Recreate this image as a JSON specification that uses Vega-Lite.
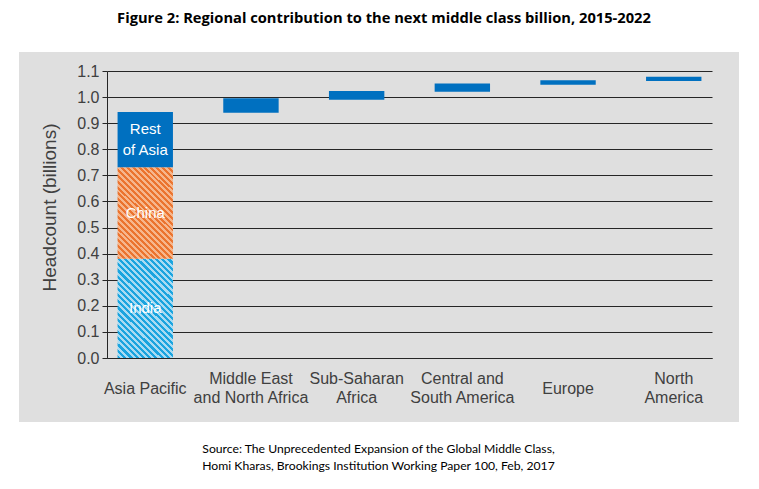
{
  "$schema": "https://vega.github.io/schema/vega-lite/v6.json",
  "width": 720,
  "height": 370,
  "autosize": {"type": "none"},
  "padding": {"left": 19, "top": 52, "right": 20, "bottom": 67},
  "background": "white",
  "config": {"view": {"fill": "#DFDFDF", "stroke": null}},
  "title": {
    "text": "Figure 2: Regional contribution to the next middle class billion, 2015-2022",
    "font": "Open Sans",
    "fontSize": 14.7,
    "fontWeight": "bold",
    "color": "black",
    "anchor": "middle",
    "frame": "group",
    "baseline": "alphabetic",
    "offset": 14,
    "dx": 5
  },
  "data": {
    "values": [
      {"region": "Asia Pacific", "segment": "India", "start": 0, "end": 0.38},
      {"region": "Asia Pacific", "segment": "China", "start": 0.38, "end": 0.73},
      {"region": "Asia Pacific", "segment": "Rest of Asia", "start": 0.73, "end": 0.943},
      {"region": "Middle East and North Africa", "segment": "Middle East and North Africa", "start": 0.94, "end": 0.996},
      {"region": "Sub-Saharan Africa", "segment": "Sub-Saharan Africa", "start": 0.99, "end": 1.023},
      {"region": "Central and South America", "segment": "Central and South America", "start": 1.02, "end": 1.052},
      {"region": "Europe", "segment": "Europe", "start": 1.047, "end": 1.065},
      {"region": "North America", "segment": "North America", "start": 1.062, "end": 1.078}
    ]
  },
  "encoding": {
    "x": {
      "field": "region",
      "type": "nominal",
      "sort": null,
      "scale": {
        "domain": ["Asia Pacific", "Middle East and North Africa", "Sub-Saharan Africa", "Central and South America", "Europe", "North America"],
        "range": [88, 693],
        "paddingInner": 0.476,
        "paddingOuter": 0.1
      },
      "axis": {
        "title": ["Source: The Unprecedented Expansion of the Global Middle Class,", "Homi Kharas, Brookings Institution Working Paper 100, Feb, 2017"],
        "orient": "bottom",
        "offset": -64,
        "ticks": false,
        "tickSize": 0,
        "domain": true,
        "domainColor": "#262626",
        "domainWidth": 1,
        "grid": false,
        "labelAngle": 0,
        "labelFont": "Liberation Sans",
        "labelFontSize": 16,
        "labelColor": "#404040",
        "labelBaseline": {"condition": {"test": "datum.value == 'Asia Pacific' || datum.value == 'Europe'", "value": "middle"}, "value": "line-bottom"},
        "labelPadding": 30,
        "labelLineHeight": 19,
        "labelLimit": 0,
        "labelExpr": "datum.label == 'Middle East and North Africa' ? ['Middle East', 'and North Africa'] : datum.label == 'Sub-Saharan Africa' ? ['Sub-Saharan', 'Africa'] : datum.label == 'Central and South America' ? ['Central and', 'South America'] : datum.label == 'North America' ? ['North', 'America'] : datum.label",
        "titleFont": "Lato",
        "titleFontSize": 12.2,
        "titleFontWeight": "normal",
        "titleColor": "black",
        "titleLineHeight": 17,
        "titlePadding": 37,
        "titleX": 359,
        "titleAlign": "center"
      }
    },
    "y": {
      "field": "start",
      "type": "quantitative",
      "title": "Headcount (billions)",
      "scale": {"domain": [0, 1.1], "range": [306, 19], "nice": false, "zero": false},
      "axis": {
        "title": "Headcount (billions)",
        "values": [0, 0.1, 0.2, 0.3, 0.4, 0.5, 0.6, 0.7, 0.8, 0.9, 1.0, 1.1],
        "format": ".1f",
        "offset": -88,
        "grid": true,
        "gridColor": "#262626",
        "gridWidth": 1,
        "gridOpacity": 1,
        "domainColor": "#262626",
        "tickColor": "#262626",
        "tickSize": 5,
        "labelFont": "Liberation Sans",
        "labelFontSize": 16,
        "labelColor": "#404040",
        "labelPadding": 3,
        "titleFont": "Liberation Sans",
        "titleFontSize": 19,
        "titleFontWeight": "normal",
        "titleColor": "#404040",
        "titlePadding": 17,
        "titleY": 155
      }
    }
  },
  "layer": [
    {
      "transform": [{"filter": "datum.segment != 'India' && datum.segment != 'China'"}],
      "mark": {"type": "bar", "color": "#0070C0"},
      "encoding": {"y2": {"field": "end"}}
    },
    {
      "transform": [{"filter": "datum.segment == 'India'"}],
      "encoding": {"y2": {"field": "end"}},
      "mark": {
        "type": "bar",
        "fill": {
          "gradient": "linear", "x1": 0, "y1": 1, "x2": 0.66, "y2": -0.189,
          "stops": [
            {"offset": 0, "color": "#1AA4DF"}, {"offset": 0.02, "color": "#1AA4DF"}, {"offset": 0.02, "color": "#A8DBF2"}, {"offset": 0.04, "color": "#A8DBF2"},
            {"offset": 0.04, "color": "#1AA4DF"}, {"offset": 0.06, "color": "#1AA4DF"}, {"offset": 0.06, "color": "#A8DBF2"}, {"offset": 0.08, "color": "#A8DBF2"},
            {"offset": 0.08, "color": "#1AA4DF"}, {"offset": 0.1, "color": "#1AA4DF"}, {"offset": 0.1, "color": "#A8DBF2"}, {"offset": 0.12, "color": "#A8DBF2"},
            {"offset": 0.12, "color": "#1AA4DF"}, {"offset": 0.14, "color": "#1AA4DF"}, {"offset": 0.14, "color": "#A8DBF2"}, {"offset": 0.16, "color": "#A8DBF2"},
            {"offset": 0.16, "color": "#1AA4DF"}, {"offset": 0.18, "color": "#1AA4DF"}, {"offset": 0.18, "color": "#A8DBF2"}, {"offset": 0.2, "color": "#A8DBF2"},
            {"offset": 0.2, "color": "#1AA4DF"}, {"offset": 0.22, "color": "#1AA4DF"}, {"offset": 0.22, "color": "#A8DBF2"}, {"offset": 0.24, "color": "#A8DBF2"},
            {"offset": 0.24, "color": "#1AA4DF"}, {"offset": 0.26, "color": "#1AA4DF"}, {"offset": 0.26, "color": "#A8DBF2"}, {"offset": 0.28, "color": "#A8DBF2"},
            {"offset": 0.28, "color": "#1AA4DF"}, {"offset": 0.3, "color": "#1AA4DF"}, {"offset": 0.3, "color": "#A8DBF2"}, {"offset": 0.32, "color": "#A8DBF2"},
            {"offset": 0.32, "color": "#1AA4DF"}, {"offset": 0.34, "color": "#1AA4DF"}, {"offset": 0.34, "color": "#A8DBF2"}, {"offset": 0.36, "color": "#A8DBF2"},
            {"offset": 0.36, "color": "#1AA4DF"}, {"offset": 0.38, "color": "#1AA4DF"}, {"offset": 0.38, "color": "#A8DBF2"}, {"offset": 0.4, "color": "#A8DBF2"},
            {"offset": 0.4, "color": "#1AA4DF"}, {"offset": 0.42, "color": "#1AA4DF"}, {"offset": 0.42, "color": "#A8DBF2"}, {"offset": 0.44, "color": "#A8DBF2"},
            {"offset": 0.44, "color": "#1AA4DF"}, {"offset": 0.46, "color": "#1AA4DF"}, {"offset": 0.46, "color": "#A8DBF2"}, {"offset": 0.48, "color": "#A8DBF2"},
            {"offset": 0.48, "color": "#1AA4DF"}, {"offset": 0.5, "color": "#1AA4DF"}, {"offset": 0.5, "color": "#A8DBF2"}, {"offset": 0.52, "color": "#A8DBF2"},
            {"offset": 0.52, "color": "#1AA4DF"}, {"offset": 0.54, "color": "#1AA4DF"}, {"offset": 0.54, "color": "#A8DBF2"}, {"offset": 0.56, "color": "#A8DBF2"},
            {"offset": 0.56, "color": "#1AA4DF"}, {"offset": 0.58, "color": "#1AA4DF"}, {"offset": 0.58, "color": "#A8DBF2"}, {"offset": 0.6, "color": "#A8DBF2"},
            {"offset": 0.6, "color": "#1AA4DF"}, {"offset": 0.62, "color": "#1AA4DF"}, {"offset": 0.62, "color": "#A8DBF2"}, {"offset": 0.64, "color": "#A8DBF2"},
            {"offset": 0.64, "color": "#1AA4DF"}, {"offset": 0.66, "color": "#1AA4DF"}, {"offset": 0.66, "color": "#A8DBF2"}, {"offset": 0.68, "color": "#A8DBF2"},
            {"offset": 0.68, "color": "#1AA4DF"}, {"offset": 0.7, "color": "#1AA4DF"}, {"offset": 0.7, "color": "#A8DBF2"}, {"offset": 0.72, "color": "#A8DBF2"},
            {"offset": 0.72, "color": "#1AA4DF"}, {"offset": 0.74, "color": "#1AA4DF"}, {"offset": 0.74, "color": "#A8DBF2"}, {"offset": 0.76, "color": "#A8DBF2"},
            {"offset": 0.76, "color": "#1AA4DF"}, {"offset": 0.78, "color": "#1AA4DF"}, {"offset": 0.78, "color": "#A8DBF2"}, {"offset": 0.8, "color": "#A8DBF2"},
            {"offset": 0.8, "color": "#1AA4DF"}, {"offset": 0.82, "color": "#1AA4DF"}, {"offset": 0.82, "color": "#A8DBF2"}, {"offset": 0.84, "color": "#A8DBF2"},
            {"offset": 0.84, "color": "#1AA4DF"}, {"offset": 0.86, "color": "#1AA4DF"}, {"offset": 0.86, "color": "#A8DBF2"}, {"offset": 0.88, "color": "#A8DBF2"},
            {"offset": 0.88, "color": "#1AA4DF"}, {"offset": 0.9, "color": "#1AA4DF"}, {"offset": 0.9, "color": "#A8DBF2"}, {"offset": 0.92, "color": "#A8DBF2"},
            {"offset": 0.92, "color": "#1AA4DF"}, {"offset": 0.94, "color": "#1AA4DF"}, {"offset": 0.94, "color": "#A8DBF2"}, {"offset": 0.96, "color": "#A8DBF2"},
            {"offset": 0.96, "color": "#1AA4DF"}, {"offset": 0.98, "color": "#1AA4DF"}, {"offset": 0.98, "color": "#A8DBF2"}, {"offset": 1, "color": "#A8DBF2"}
          ]
        }
      }
    },
    {
      "transform": [{"filter": "datum.segment == 'China'"}],
      "encoding": {"y2": {"field": "end"}},
      "mark": {
        "type": "bar",
        "fill": {
          "gradient": "linear", "x1": 0, "y1": 1, "x2": 0.708, "y2": -0.176,
          "stops": [
            {"offset": 0, "color": "#EB742F"}, {"offset": 0.02, "color": "#EB742F"}, {"offset": 0.02, "color": "#F6B68C"}, {"offset": 0.04, "color": "#F6B68C"},
            {"offset": 0.04, "color": "#EB742F"}, {"offset": 0.06, "color": "#EB742F"}, {"offset": 0.06, "color": "#F6B68C"}, {"offset": 0.08, "color": "#F6B68C"},
            {"offset": 0.08, "color": "#EB742F"}, {"offset": 0.1, "color": "#EB742F"}, {"offset": 0.1, "color": "#F6B68C"}, {"offset": 0.12, "color": "#F6B68C"},
            {"offset": 0.12, "color": "#EB742F"}, {"offset": 0.14, "color": "#EB742F"}, {"offset": 0.14, "color": "#F6B68C"}, {"offset": 0.16, "color": "#F6B68C"},
            {"offset": 0.16, "color": "#EB742F"}, {"offset": 0.18, "color": "#EB742F"}, {"offset": 0.18, "color": "#F6B68C"}, {"offset": 0.2, "color": "#F6B68C"},
            {"offset": 0.2, "color": "#EB742F"}, {"offset": 0.22, "color": "#EB742F"}, {"offset": 0.22, "color": "#F6B68C"}, {"offset": 0.24, "color": "#F6B68C"},
            {"offset": 0.24, "color": "#EB742F"}, {"offset": 0.26, "color": "#EB742F"}, {"offset": 0.26, "color": "#F6B68C"}, {"offset": 0.28, "color": "#F6B68C"},
            {"offset": 0.28, "color": "#EB742F"}, {"offset": 0.3, "color": "#EB742F"}, {"offset": 0.3, "color": "#F6B68C"}, {"offset": 0.32, "color": "#F6B68C"},
            {"offset": 0.32, "color": "#EB742F"}, {"offset": 0.34, "color": "#EB742F"}, {"offset": 0.34, "color": "#F6B68C"}, {"offset": 0.36, "color": "#F6B68C"},
            {"offset": 0.36, "color": "#EB742F"}, {"offset": 0.38, "color": "#EB742F"}, {"offset": 0.38, "color": "#F6B68C"}, {"offset": 0.4, "color": "#F6B68C"},
            {"offset": 0.4, "color": "#EB742F"}, {"offset": 0.42, "color": "#EB742F"}, {"offset": 0.42, "color": "#F6B68C"}, {"offset": 0.44, "color": "#F6B68C"},
            {"offset": 0.44, "color": "#EB742F"}, {"offset": 0.46, "color": "#EB742F"}, {"offset": 0.46, "color": "#F6B68C"}, {"offset": 0.48, "color": "#F6B68C"},
            {"offset": 0.48, "color": "#EB742F"}, {"offset": 0.5, "color": "#EB742F"}, {"offset": 0.5, "color": "#F6B68C"}, {"offset": 0.52, "color": "#F6B68C"},
            {"offset": 0.52, "color": "#EB742F"}, {"offset": 0.54, "color": "#EB742F"}, {"offset": 0.54, "color": "#F6B68C"}, {"offset": 0.56, "color": "#F6B68C"},
            {"offset": 0.56, "color": "#EB742F"}, {"offset": 0.58, "color": "#EB742F"}, {"offset": 0.58, "color": "#F6B68C"}, {"offset": 0.6, "color": "#F6B68C"},
            {"offset": 0.6, "color": "#EB742F"}, {"offset": 0.62, "color": "#EB742F"}, {"offset": 0.62, "color": "#F6B68C"}, {"offset": 0.64, "color": "#F6B68C"},
            {"offset": 0.64, "color": "#EB742F"}, {"offset": 0.66, "color": "#EB742F"}, {"offset": 0.66, "color": "#F6B68C"}, {"offset": 0.68, "color": "#F6B68C"},
            {"offset": 0.68, "color": "#EB742F"}, {"offset": 0.7, "color": "#EB742F"}, {"offset": 0.7, "color": "#F6B68C"}, {"offset": 0.72, "color": "#F6B68C"},
            {"offset": 0.72, "color": "#EB742F"}, {"offset": 0.74, "color": "#EB742F"}, {"offset": 0.74, "color": "#F6B68C"}, {"offset": 0.76, "color": "#F6B68C"},
            {"offset": 0.76, "color": "#EB742F"}, {"offset": 0.78, "color": "#EB742F"}, {"offset": 0.78, "color": "#F6B68C"}, {"offset": 0.8, "color": "#F6B68C"},
            {"offset": 0.8, "color": "#EB742F"}, {"offset": 0.82, "color": "#EB742F"}, {"offset": 0.82, "color": "#F6B68C"}, {"offset": 0.84, "color": "#F6B68C"},
            {"offset": 0.84, "color": "#EB742F"}, {"offset": 0.86, "color": "#EB742F"}, {"offset": 0.86, "color": "#F6B68C"}, {"offset": 0.88, "color": "#F6B68C"},
            {"offset": 0.88, "color": "#EB742F"}, {"offset": 0.9, "color": "#EB742F"}, {"offset": 0.9, "color": "#F6B68C"}, {"offset": 0.92, "color": "#F6B68C"},
            {"offset": 0.92, "color": "#EB742F"}, {"offset": 0.94, "color": "#EB742F"}, {"offset": 0.94, "color": "#F6B68C"}, {"offset": 0.96, "color": "#F6B68C"},
            {"offset": 0.96, "color": "#EB742F"}, {"offset": 0.98, "color": "#EB742F"}, {"offset": 0.98, "color": "#F6B68C"}, {"offset": 1, "color": "#F6B68C"}
          ]
        }
      }
    },
    {
      "transform": [
        {"filter": "datum.segment == 'India' || datum.segment == 'China'"},
        {"fold": ["start", "end"], "as": ["bound", "value"]}
      ],
      "mark": {"type": "text", "color": "white", "font": "Liberation Sans", "fontSize": 15, "baseline": "middle"},
      "encoding": {
        "y": {"aggregate": "mean", "field": "value", "type": "quantitative", "title": "Headcount (billions)"},
        "text": {"field": "segment"}
      }
    },
    {
      "transform": [
        {"filter": "datum.segment == 'Rest of Asia'"},
        {"fold": ["start", "end"], "as": ["bound", "value"]}
      ],
      "mark": {"type": "text", "color": "white", "font": "Liberation Sans", "fontSize": 15, "baseline": "line-bottom", "lineHeight": 21},
      "encoding": {
        "y": {"aggregate": "mean", "field": "value", "type": "quantitative", "title": "Headcount (billions)"},
        "text": {
          "condition": {"test": "datum.segment == 'Rest of Asia'", "value": ["Rest", "of Asia"]},
          "field": "segment"
        }
      }
    }
  ]
}
